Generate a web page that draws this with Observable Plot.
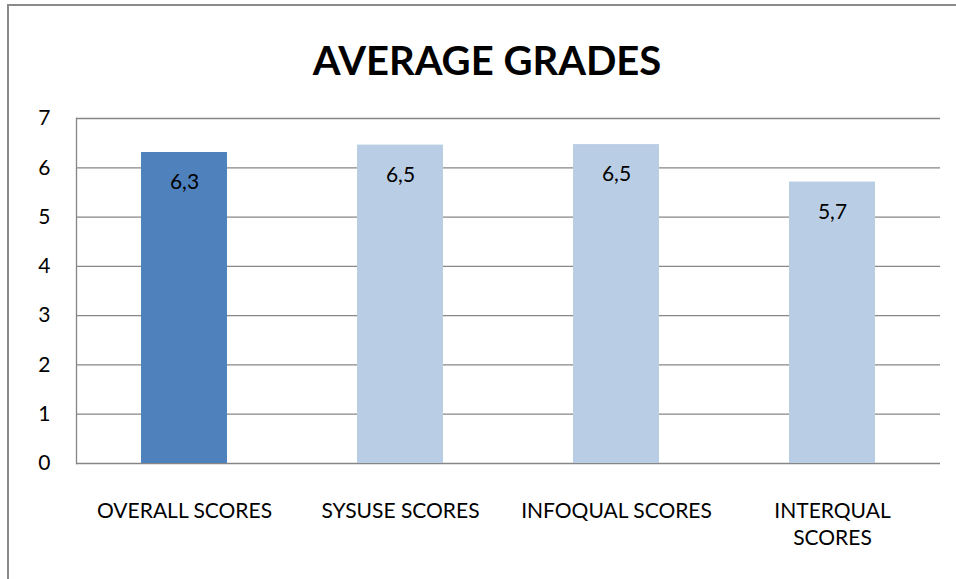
<!DOCTYPE html>
<html>
<head>
<meta charset="utf-8">
<script src="https://cdn.jsdelivr.net/npm/d3@7"></script>
<script src="https://cdn.jsdelivr.net/npm/@observablehq/plot@0.6"></script>
<style>
  html, body { margin: 0; padding: 0; background: #fff; }
  #wrap { position: relative; width: 956px; height: 579px; overflow: hidden; font-family: Lato, sans-serif; }
  #border { position: absolute; left: 7px; top: 4px; width: 960px; height: 600px; border-left: 2px solid #8a8a8a; border-top: 2px solid #8a8a8a; }
  #title { position: absolute; left: 0; top: 40px; width: 974px; text-align: center; font-size: 40px; font-weight: bold; color: #000; line-height: 40px; }
  #chart { position: absolute; left: 0; top: 90px; }
</style>
</head>
<body>
<div id="wrap">
  <div id="border"></div>
  <div id="title">AVERAGE GRADES</div>
  <div id="chart"></div>
</div>
<script>
const categories = ["OVERALL SCORES", "SYSUSE SCORES", "INFOQUAL SCORES", "INTERQUAL SCORES"];
const tickLabels = ["OVERALL SCORES", "SYSUSE SCORES", "INFOQUAL SCORES", "INTERQUAL\nSCORES"];
const values = [6.31, 6.46, 6.47, 5.71];
const barColors = ["#4f81bd", "#b9cde5", "#b9cde5", "#b9cde5"];
const yTicks = [0, 1, 2, 3, 4, 5, 6, 7];

const data = categories.map((c, i) => ({cat: c, value: values[i], color: barColors[i], label: tickLabels[i]}));
const fmt = v => v.toFixed(1).replace(".", ",");

const chart = Plot.plot({
  width: 956,
  height: 489,
  marginTop: 28,
  marginBottom: 116,
  marginLeft: 76,
  marginRight: 16,
  style: {fontFamily: "Lato, sans-serif", fontSize: "21px", color: "#000", background: "transparent"},
  x: {domain: categories, paddingInner: 0.6, paddingOuter: 0.3, axis: null},
  y: {domain: [0, 7], axis: null},
  marks: [
    Plot.ruleY(yTicks, {stroke: "#868686", strokeWidth: 1.3}),
    Plot.frame({anchor: "left", stroke: "#868686", strokeWidth: 1.3}),
    Plot.barY(data, {x: "cat", y: "value", fill: "color"}),
    Plot.text(data, {x: "cat", y: "value", text: d => fmt(d.value), dy: 30, fontSize: 21, fill: "#000"}),
    Plot.text(yTicks, {y: d => d, text: d => String(d), frameAnchor: "left", dx: -26, textAnchor: "end", fontSize: 21, fill: "#000"}),
    Plot.text(data, {x: "cat", text: "label", frameAnchor: "bottom", dy: 35, lineAnchor: "top", lineHeight: 1.29, fontSize: 21, fill: "#000"})
  ]
});
document.getElementById("chart").appendChild(chart);
</script>
</body>
</html>
